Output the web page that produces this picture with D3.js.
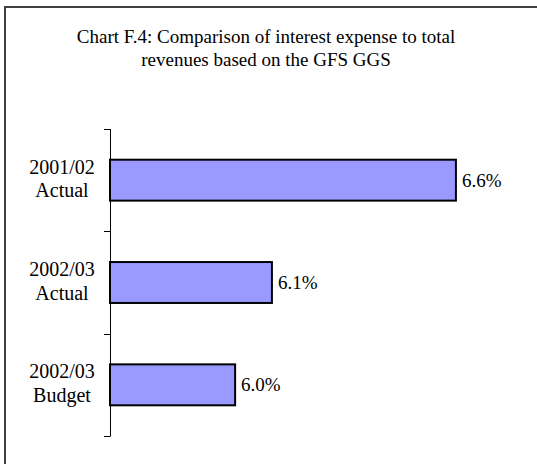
<!DOCTYPE html>
<html>
<head>
<meta charset="utf-8">
<script src="https://cdn.jsdelivr.net/npm/d3@7"></script>
<style>
  html, body { margin: 0; padding: 0; background: #fff; }
  svg { display: block; }
  text { font-family: "Liberation Serif", "Times New Roman", serif; fill: #000; }
</style>
</head>
<body>
<svg id="chart" width="537" height="464"></svg>
<script>
// Chart data
const titleLines = ["Chart F.4: Comparison of interest expense to total", "revenues based on the GFS GGS"];
const categories = ["2001/02 Actual", "2002/03 Actual", "2002/03 Budget"];
const categoryLines = [["2001/02", "Actual"], ["2002/03", "Actual"], ["2002/03", "Budget"]];
const values = [6.6, 6.1, 6.0];
const valueLabels = ["6.6%", "6.1%", "6.0%"];

const svg = d3.select("#chart");

// Outer frame (runs off the right and bottom edges)
svg.append("rect")
  .attr("x", 5).attr("y", 7)
  .attr("width", 600).attr("height", 600)
  .attr("fill", "#fff")
  .attr("stroke", "#404040")
  .attr("stroke-width", 2);

// Title
const title = svg.append("text")
  .attr("text-anchor", "middle")
  .attr("font-size", 19);
titleLines.forEach((t, i) => {
  title.append("tspan")
    .attr("x", 266)
    .attr("y", 43 + i * 23)
    .text(t);
});

// Scales
const axisX = 110;
const x = d3.scaleLinear().domain([5.66, 6.8]).range([axisX, axisX + 1.14 * 368]);
const y = d3.scaleBand()
  .domain(categories)
  .range([129, 436])
  .paddingInner(0.6)
  .paddingOuter(0.3);

// Bars
svg.append("g").selectAll("rect")
  .data(values)
  .join("rect")
  .attr("x", axisX)
  .attr("y", (d, i) => y(categories[i]))
  .attr("width", d => x(d) - axisX)
  .attr("height", y.bandwidth())
  .attr("fill", "#9999ff")
  .attr("stroke", "#000")
  .attr("stroke-width", 2);

// Category axis with ticks at band boundaries
const step = y.step();
const r0 = y.range()[0];
const boundaries = d3.range(categories.length + 1).map(i => r0 + i * step);
const axisG = svg.append("g");
axisG.append("line")
  .attr("x1", axisX + 0.5).attr("x2", axisX + 0.5)
  .attr("y1", boundaries[0]).attr("y2", boundaries[boundaries.length - 1])
  .attr("stroke", "#000").attr("stroke-width", 1);
axisG.selectAll("line.tick")
  .data(boundaries)
  .join("line")
  .attr("class", "tick")
  .attr("x1", axisX - 6).attr("x2", axisX + 0.5)
  .attr("y1", d => Math.round(d) + 0.5).attr("y2", d => Math.round(d) + 0.5)
  .attr("stroke", "#000").attr("stroke-width", 1);

// Category labels
svg.append("g").selectAll("text")
  .data(categories)
  .join("text")
  .attr("text-anchor", "middle")
  .attr("font-size", 20)
  .each(function (c, i) {
    const cy = y(c) + y.bandwidth() / 2;
    d3.select(this).selectAll("tspan")
      .data(categoryLines[i])
      .join("tspan")
      .attr("x", 62)
      .attr("y", (d, j) => cy - 6.5 + j * 23.5)
      .text(d => d);
  });

// Value labels
svg.append("g").selectAll("text")
  .data(values)
  .join("text")
  .attr("x", d => x(d) + 6)
  .attr("y", (d, i) => y(categories[i]) + y.bandwidth() / 2 + 6.5)
  .attr("font-size", 19)
  .text((d, i) => valueLabels[i]);
</script>
</body>
</html>
